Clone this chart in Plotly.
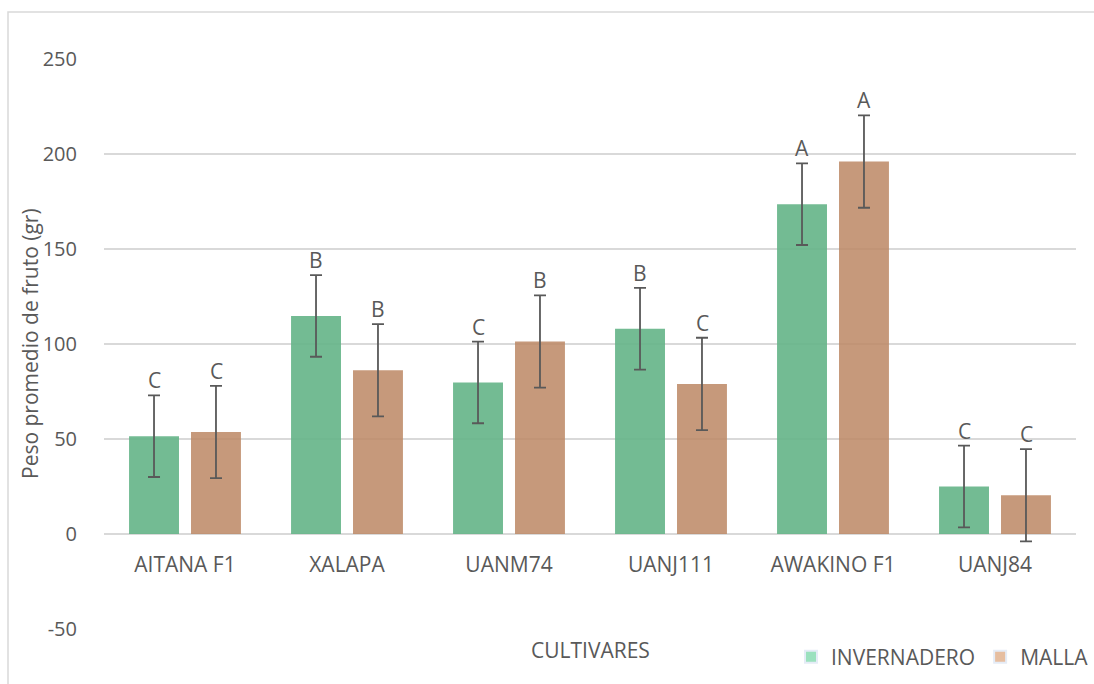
import plotly.graph_objects as go

categories = ["AITANA F1", "XALAPA", "UANM74", "UANJ111", "AWAKINO F1", "UANJ84"]
invernadero = [51.5, 114.8, 79.8, 108.0, 173.6, 25.0]
malla = [53.7, 86.2, 101.3, 79.0, 196.0, 20.4]
err_invernadero = [21.5, 21.5, 21.5, 21.5, 21.5, 21.5]
err_malla = [24.3, 24.3, 24.3, 24.3, 24.3, 24.3]
letters_invernadero = ["C", "B", "C", "B", "A", "C"]
letters_malla = ["C", "B", "B", "C", "A", "C"]
y_ticks = [-50, 0, 50, 100, 150, 200, 250]
y_tick_labels = ["-50", "0", "50", "100", "150", "200", "250"]

FONT = "Open Sans"
TXT = "#595959"
GREEN_BAR = "rgba(100,180,135,0.9)"
BROWN_BAR = "rgba(188,135,100,0.85)"
GREEN_LEG = "rgb(155,225,190)"
BROWN_LEG = "rgb(230,190,160)"

W, H = 1094, 684
L, R, T, B = 104, 18, 59, 55
pw, ph = W - L - R, H - T - B

def px_x(x):
    return (x - L) / pw

def px_y(y):
    return (H - B - y) / ph

fig = go.Figure()
err_style = dict(type="data", thickness=1.8, width=6, color="#595959")

fig.add_trace(go.Bar(
    x=categories, y=invernadero, name="INVERNADERO", offsetgroup="inv",
    marker=dict(color=GREEN_BAR, line=dict(width=0)),
    error_y=dict(array=err_invernadero, **err_style),
    showlegend=False,
))
fig.add_trace(go.Bar(
    x=categories, y=malla, name="MALLA", offsetgroup="mal",
    marker=dict(color=BROWN_BAR, line=dict(width=0)),
    error_y=dict(array=err_malla, **err_style),
    showlegend=False,
))
# legend entries (share offset groups so they do not take extra slots)
fig.add_trace(go.Bar(x=[None], y=[None], name="INVERNADERO", offsetgroup="inv",
                     marker=dict(color=GREEN_LEG), showlegend=True, hoverinfo="skip"))
fig.add_trace(go.Bar(x=[None], y=[None], name="MALLA", offsetgroup="mal",
                     marker=dict(color=BROWN_LEG), showlegend=True, hoverinfo="skip"))

annotations = []
for i, c in enumerate(categories):
    for vals, errs, lets, shift in ((invernadero, err_invernadero, letters_invernadero, -31),
                                    (malla, err_malla, letters_malla, 31)):
        annotations.append(dict(
            x=c, y=vals[i] + errs[i], xref="x", yref="y",
            text=lets[i], showarrow=False, xshift=shift, yshift=-1,
            yanchor="bottom", font=dict(family=FONT, size=21, color=TXT),
        ))

annotations.append(dict(
    x=0.5, y=px_y(650), xref="paper", yref="paper", text="CULTIVARES",
    showarrow=False, xanchor="center", yanchor="middle",
    font=dict(family=FONT, size=21, color=TXT),
))
annotations.append(dict(
    x=px_x(30), y=px_y(344), xref="paper", yref="paper",
    text="Peso promedio de fruto (gr)", textangle=-90,
    showarrow=False, xanchor="center", yanchor="middle",
    font=dict(family=FONT, size=21, color=TXT),
))

shapes = [dict(
    type="rect", xref="paper", yref="paper",
    x0=px_x(8), x1=px_x(1200), y0=px_y(800), y1=px_y(12),
    line=dict(color="#d9d9d9", width=1.5), fillcolor="rgba(0,0,0,0)", layer="below",
)]

fig.update_layout(
    width=W, height=H,
    margin=dict(l=L, r=R, t=T, b=B, autoexpand=False),
    paper_bgcolor="white", plot_bgcolor="white",
    barmode="group", bargap=0.235, bargroupgap=0.194,
    font=dict(family=FONT, size=20, color=TXT),
    legend=dict(orientation="h", x=px_x(1094), xanchor="right",
                y=px_y(657), yanchor="middle",
                font=dict(family=FONT, size=21, color=TXT),
                itemsizing="constant", bgcolor="rgba(0,0,0,0)"),
    annotations=annotations,
    shapes=shapes,
)
fig.update_xaxes(
    anchor="free", position=50 / 300, showgrid=False, showline=False,
    ticks="outside", ticklen=12, tickcolor="rgba(0,0,0,0)",
    tickfont=dict(family=FONT, size=21, color=TXT),
)
fig.update_yaxes(
    range=[-50, 250], tickvals=y_ticks, ticktext=y_tick_labels,
    showgrid=True, gridcolor="#d9d9d9",
    gridwidth=1.5, zeroline=True, zerolinecolor="#d9d9d9", zerolinewidth=2,
    showline=False, ticks="outside", ticklen=22, tickcolor="rgba(0,0,0,0)",
    tickfont=dict(family=FONT, size=20, color=TXT),
)

fig.write_html("out.html")
